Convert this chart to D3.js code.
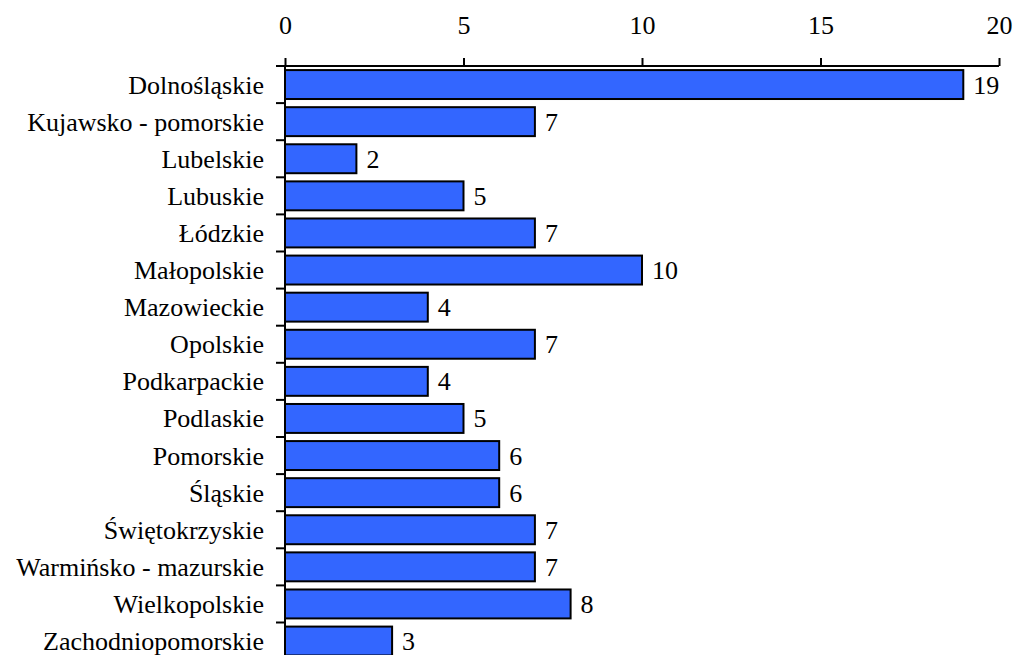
<!DOCTYPE html>
<html>
<head>
<meta charset="utf-8">
<script src="https://cdn.jsdelivr.net/npm/d3@7"></script>
</head>
<body style="margin:0; font-family: 'Liberation Serif'">
<svg id="chart" width="1014" height="655" style="font-family: 'Liberation Serif'"></svg>
<script>
const categories = [
  "Dolnośląskie", "Kujawsko - pomorskie", "Lubelskie", "Lubuskie", "Łódzkie",
  "Małopolskie", "Mazowieckie", "Opolskie", "Podkarpackie", "Podlaskie",
  "Pomorskie", "Śląskie", "Świętokrzyskie", "Warmińsko - mazurskie",
  "Wielkopolskie", "Zachodniopomorskie"
]
const values = [19, 7, 2, 5, 7, 10, 4, 7, 4, 5, 6, 6, 7, 7, 8, 3]
const xTicks = [0, 5, 10, 15, 20]

const FONT = "'Liberation Serif'"
const FS = 26

const margin = {top: 66, left: 285, right: 15}
const width = 1014
const step = 37.1

const svg = d3.select("#chart")

const x = d3.scaleLinear().domain([0, 20]).range([margin.left, width - margin.right])
const y = d3.scaleBand()
  .domain(categories)
  .range([margin.top, margin.top + step * categories.length])
  .paddingInner(0.22)
  .paddingOuter(0.11)

// category labels
svg.selectAll("text.cat")
  .data(categories)
  .join("text")
  .attr("class", "cat")
  .attr("x", x(0) - 21)
  .attr("y", d => y(d) + y.bandwidth() / 2 + 9)
  .attr("text-anchor", "end")
  .attr("font-size", FS)
  .style("font-family", FONT)
  .text(d => d)

// bars
svg.selectAll("rect.bar")
  .data(values)
  .join("rect")
  .attr("class", "bar")
  .attr("x", x(0))
  .attr("y", (d, i) => y(categories[i]))
  .attr("width", d => x(d) - x(0))
  .attr("height", y.bandwidth())
  .attr("fill", "#3366ff")
  .attr("stroke", "black")
  .attr("stroke-width", 2)

// value labels
svg.selectAll("text.val")
  .data(values)
  .join("text")
  .attr("class", "val")
  .attr("x", d => x(d) + 10)
  .attr("y", (d, i) => y(categories[i]) + y.bandwidth() / 2 + 9)
  .attr("font-size", FS)
  .style("font-family", FONT)
  .text(d => d)

// top axis
const xAxis = svg.append("g")
  .attr("transform", `translate(0,${margin.top})`)
  .call(d3.axisTop(x).tickValues(xTicks).tickSize(8).tickPadding(24))
xAxis.attr("font-family", null).attr("font-size", null)
xAxis.select(".domain").attr("stroke-width", 2).attr("d", `M${x(0)},0H${x(20)}`)
xAxis.selectAll(".tick line").attr("stroke-width", 2)
xAxis.selectAll(".tick text")
  .attr("fill", "black")
  .attr("font-size", FS)
  .style("font-family", FONT)

// left axis (boundary ticks)
const yBottom = margin.top + step * categories.length
const boundaries = d3.range(categories.length + 1).map(i => margin.top + i * step)
const yAxis = svg.append("g")
yAxis.append("line")
  .attr("x1", x(0)).attr("x2", x(0))
  .attr("y1", margin.top).attr("y2", yBottom)
  .attr("stroke", "black").attr("stroke-width", 2)
yAxis.selectAll("line.tk")
  .data(boundaries)
  .join("line")
  .attr("class", "tk")
  .attr("x1", x(0) - 9).attr("x2", x(0))
  .attr("y1", d => d).attr("y2", d => d)
  .attr("stroke", "black").attr("stroke-width", 2)
</script>
</body>
</html>
